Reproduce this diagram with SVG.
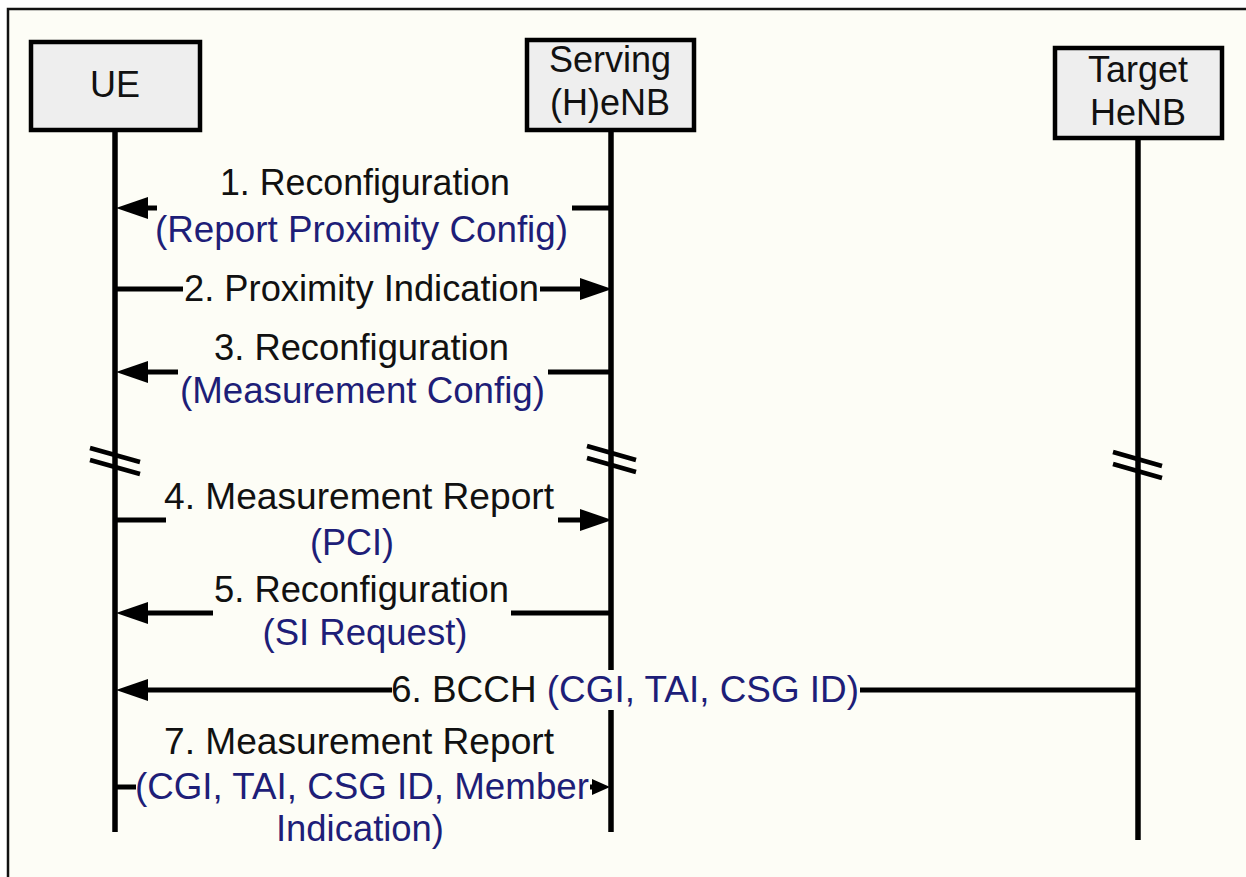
<svg xmlns="http://www.w3.org/2000/svg" width="1246" height="877" viewBox="0 0 1246 877">
  <style>
    .box { fill: #eeeeee; stroke: #000; stroke-width: 4.5; }
    .life { stroke: #000; stroke-width: 5.5; fill: none; }
    .msg { stroke: #000; stroke-width: 5; fill: none; }
    .brk { stroke: #000; stroke-width: 4.5; fill: none; }
    text { font-family: "Liberation Sans", Arial, sans-serif; font-size: 36px; fill: #111; text-anchor: middle; }
    .blue { fill: #1e1e78; }
  </style>
  <defs>
    <marker id="head" viewBox="0 0 32 22" refX="0" refY="11" markerWidth="32" markerHeight="22" markerUnits="userSpaceOnUse" orient="auto">
      <path d="M0,0 L32,11 L0,22 z" fill="#000"/>
    </marker>
    <marker id="headSmall" viewBox="0 0 18 16" refX="0" refY="8" markerWidth="18" markerHeight="16" markerUnits="userSpaceOnUse" orient="auto">
      <path d="M0,0 L18,8 L0,16 z" fill="#000"/>
    </marker>
  </defs>

  <!-- page and frame -->
  <rect x="0" y="0" width="1246" height="877" fill="#ffffff"/>
  <rect x="8" y="9" width="1400" height="1000" fill="#fdfdf6" stroke="#111" stroke-width="2.5"/>

  <!-- lifelines with time breaks -->
  <g id="lifelines">
    <line class="life" x1="115" y1="130" x2="115" y2="832"/>
    <!-- serving lifeline is interrupted where the BCCH label crosses it -->
    <line class="life" x1="611" y1="130" x2="611" y2="670"/>
    <line class="life" x1="611" y1="710" x2="611" y2="832"/>
    <line class="life" x1="1138" y1="138" x2="1138" y2="840"/>
    <path class="brk" d="M90,448 L140,462 M90,460 L140,474"/>
    <path class="brk" d="M587,446 L636,460 M587,458 L636,472"/>
    <path class="brk" d="M1113,452 L1162,466 M1113,464 L1162,478"/>
  </g>

  <g id="ue">
    <rect class="box" x="31" y="42" width="169" height="88"/>
    <text x="115" y="97" font-size="37">UE</text>
  </g>
  <g id="serving">
    <rect class="box" x="527" y="40" width="167" height="90"/>
    <text x="610" y="72">Serving</text>
    <text x="610" y="115">(H)eNB</text>
  </g>
  <g id="target">
    <rect class="box" x="1055" y="48" width="167" height="90"/>
    <text x="1138" y="82">Target</text>
    <text x="1138" y="125">HeNB</text>
  </g>

  <!-- messages -->
  <g id="connectors">
    <!-- 1 -->
    <path class="msg" d="M611,208 H572"/>
    <path class="msg" d="M157,208 H148" marker-end="url(#head)"/>
    <!-- 2 -->
    <path class="msg" d="M115,289 H183"/>
    <path class="msg" d="M540,289 H580" marker-end="url(#head)"/>
    <!-- 3 -->
    <path class="msg" d="M611,372 H548"/>
    <path class="msg" d="M178,372 H148" marker-end="url(#head)"/>
    <!-- 4 -->
    <path class="msg" d="M115,520 H166"/>
    <path class="msg" d="M558,520 H580" marker-end="url(#head)"/>
    <!-- 5 -->
    <path class="msg" d="M611,613 H511"/>
    <path class="msg" d="M213,613 H148" marker-end="url(#head)"/>
    <!-- 6 -->
    <path class="msg" d="M1138,690 H860"/>
    <path class="msg" d="M392,690 H148" marker-end="url(#head)"/>
    <!-- 7 -->
    <path class="msg" d="M115,787 H136"/>
    <path class="msg" d="M590,787 H592" marker-end="url(#headSmall)"/>
  </g>

  <g id="labels">
    <text x="365" y="195" textLength="290" lengthAdjust="spacingAndGlyphs">1. Reconfiguration</text>
    <text class="blue" x="361.5" y="242" textLength="413" lengthAdjust="spacingAndGlyphs">(Report Proximity Config)</text>
    <text x="361.5" y="301" textLength="355" lengthAdjust="spacingAndGlyphs">2. Proximity Indication</text>
    <text x="361.5" y="360" textLength="295" lengthAdjust="spacingAndGlyphs">3. Reconfiguration</text>
    <text class="blue" x="362.5" y="403" textLength="365" lengthAdjust="spacingAndGlyphs">(Measurement Config)</text>
    <text x="359" y="509" textLength="390" lengthAdjust="spacingAndGlyphs">4. Measurement Report</text>
    <text class="blue" x="352" y="555">(PCI)</text>
    <text x="361.5" y="602" textLength="295" lengthAdjust="spacingAndGlyphs">5. Reconfiguration</text>
    <text class="blue" x="365" y="645" textLength="205" lengthAdjust="spacingAndGlyphs">(SI Request)</text>
    <text x="625" y="702" textLength="468" lengthAdjust="spacingAndGlyphs">6. BCCH <tspan class="blue">(CGI, TAI, CSG ID)</tspan></text>
    <text x="359" y="754" textLength="390" lengthAdjust="spacingAndGlyphs">7. Measurement Report</text>
    <text class="blue" x="362" y="799" textLength="454" lengthAdjust="spacingAndGlyphs">(CGI, TAI, CSG ID, Member</text>
    <text class="blue" x="360" y="841" textLength="168" lengthAdjust="spacingAndGlyphs">Indication)</text>
  </g>
</svg>
